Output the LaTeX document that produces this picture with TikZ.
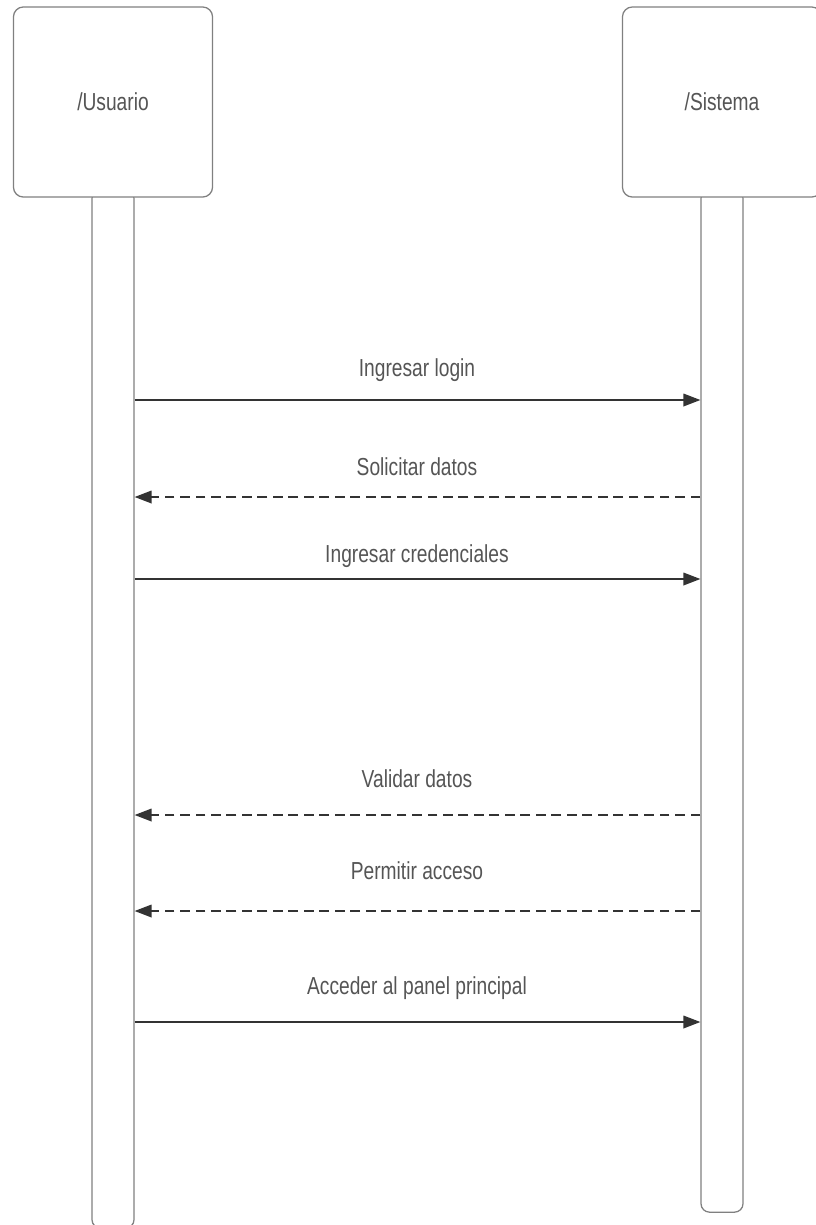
\documentclass[tikz,border=0pt]{standalone}
\usepackage{fontspec}
\setmainfont{Liberation Sans}[FakeStretch=0.78]
\usetikzlibrary{arrows.meta}

\definecolor{boxgray}{HTML}{808080}
\definecolor{msggray}{HTML}{333333}
\definecolor{txtgray}{HTML}{555555}

\tikzset{
  actor/.style={draw=boxgray, line width=0.9pt, fill=white, rounded corners=7pt,
    minimum width=4.975cm, minimum height=4.75cm, font=\fontsize{17.5}{20}\selectfont, text=txtgray},
  lifeline/.style={draw=boxgray, line width=0.9pt, fill=white, rounded corners=6pt,
    minimum width=1.05cm},
  call/.style={draw=msggray, line width=0.9pt, -{Triangle[length=12pt,width=9pt]}},
  reply/.style={call, dash pattern=on 7pt off 4pt},
  msglabel/.style={font=\fontsize{17.5}{20}\selectfont, text=txtgray}
}

\begin{document}
\begin{tikzpicture}[x=0.025cm, y=-0.025cm]
  \useasboundingbox (0,0) rectangle (816,1225);

  % lifelines first, boxes on top
  \node[lifeline, minimum height=25.95cm] (ulife) at (113,709) {};
  \node[lifeline, minimum height=25.55cm] (slife) at (722,701) {};
  \node[actor] (usuario) at (113,102) {/Usuario};
  \node[actor] (sistema) at (722,102) {/Sistema};

  % messages
  \draw[call] (ulife.east |- 0,400) -- (slife.west |- 0,400);
  \node[msglabel] (m1) at (417,370) {Ingresar login};
  \draw[reply] (slife.west |- 0,497) -- (ulife.east |- 0,497);
  \node[msglabel] (m2) at (417,467) {Solicitar datos};
  \draw[call] (ulife.east |- 0,579) -- (slife.west |- 0,579);
  \node[msglabel] (m3) at (417,556) {Ingresar credenciales};
  \draw[reply] (slife.west |- 0,815) -- (ulife.east |- 0,815);
  \node[msglabel] (m4) at (417,779) {Validar datos};
  \draw[reply] (slife.west |- 0,911) -- (ulife.east |- 0,911);
  \node[msglabel] (m5) at (417,871) {Permitir acceso};
  \draw[call] (ulife.east |- 0,1022) -- (slife.west |- 0,1022);
  \node[msglabel] (m6) at (417,988) {Acceder al panel principal};
\end{tikzpicture}
\end{document}
